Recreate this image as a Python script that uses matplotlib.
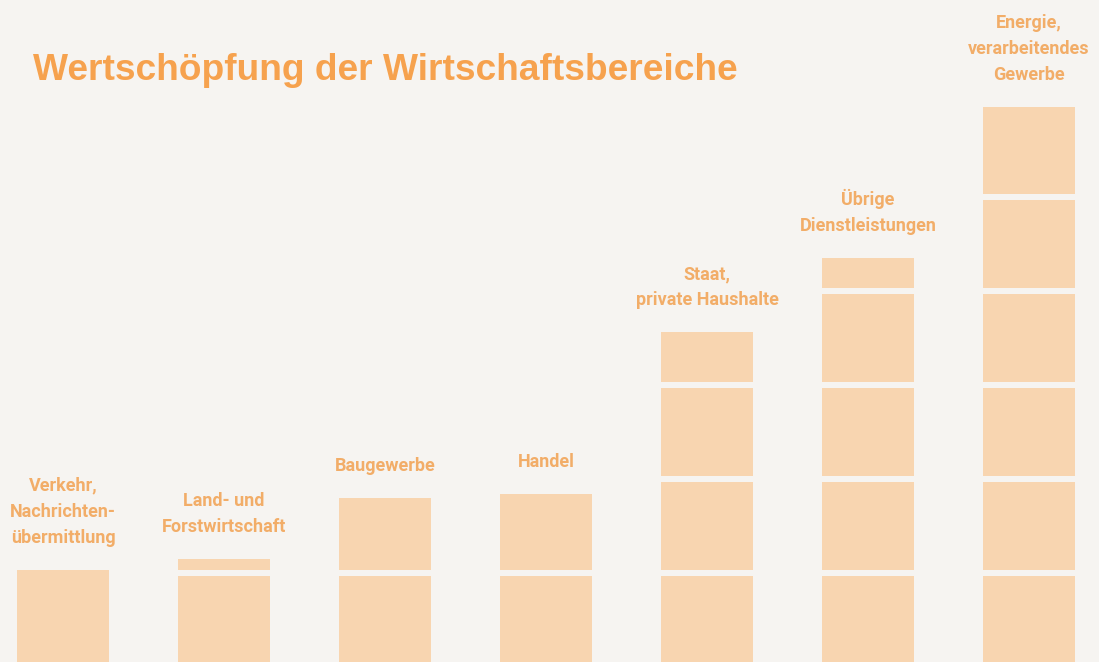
import matplotlib.pyplot as plt

# Wertschöpfung in Einheiten (je Block eine Einheit)
bereiche = [
    "Verkehr,\nNachrichten-\nübermittlung",
    "Land- und\nForstwirtschaft",
    "Baugewerbe",
    "Handel",
    "Staat,\nprivate Haushalte",
    "Übrige\nDienstleistungen",
    "Energie,\nverarbeitendes\nGewerbe",
]
werte = [1.03, 1.15, 1.80, 1.84, 3.56, 4.35, 5.96]
titel = "Wertschöpfung der Wirtschaftsbereiche"

bg = "#f6f4f1"
bar_col = "#f8d5b0"
text_col = "#f2ad68"
title_col = "#f6a24e"
narrow = ["Roboto", "DejaVu Sans"]

fig = plt.figure(figsize=(10.99, 6.62), dpi=100, facecolor=bg)
ax = fig.add_axes([0, 0, 1, 1])
ax.set_facecolor(bg)

w = 0.571
xs = list(range(len(werte)))
ax.bar(xs, werte, width=w, color=bar_col, bottom=0)

# weisse Trennfugen zwischen den Einheiten
gap = 0.07
for i, v in zip(xs, werte):
    k = 1
    while v - k > 0.05:
        ax.bar(i, gap, width=w + 0.01, bottom=k - gap / 2, color=bg)
        k += 1

for i, v, name in zip(xs, werte, bereiche):
    ax.annotate(name, (i, v), xytext=(0, 23), textcoords="offset pixels",
                ha="center", va="bottom", fontsize=13, fontweight="bold",
                color=text_col, family=narrow, linespacing=1.58)

ax.text(33 / 1099, 1 - 80 / 662, titel, transform=ax.transAxes,
        fontsize=26.7, fontweight="bold", color=title_col,
        family=["Liberation Sans", "DejaVu Sans"], ha="left", va="baseline")

ax.set_xlim(-0.391, 6.435)
ax.set_ylim(0.053, 7.096)
ax.axis("off")

fig.savefig("out.png", dpi=100, facecolor=bg)
